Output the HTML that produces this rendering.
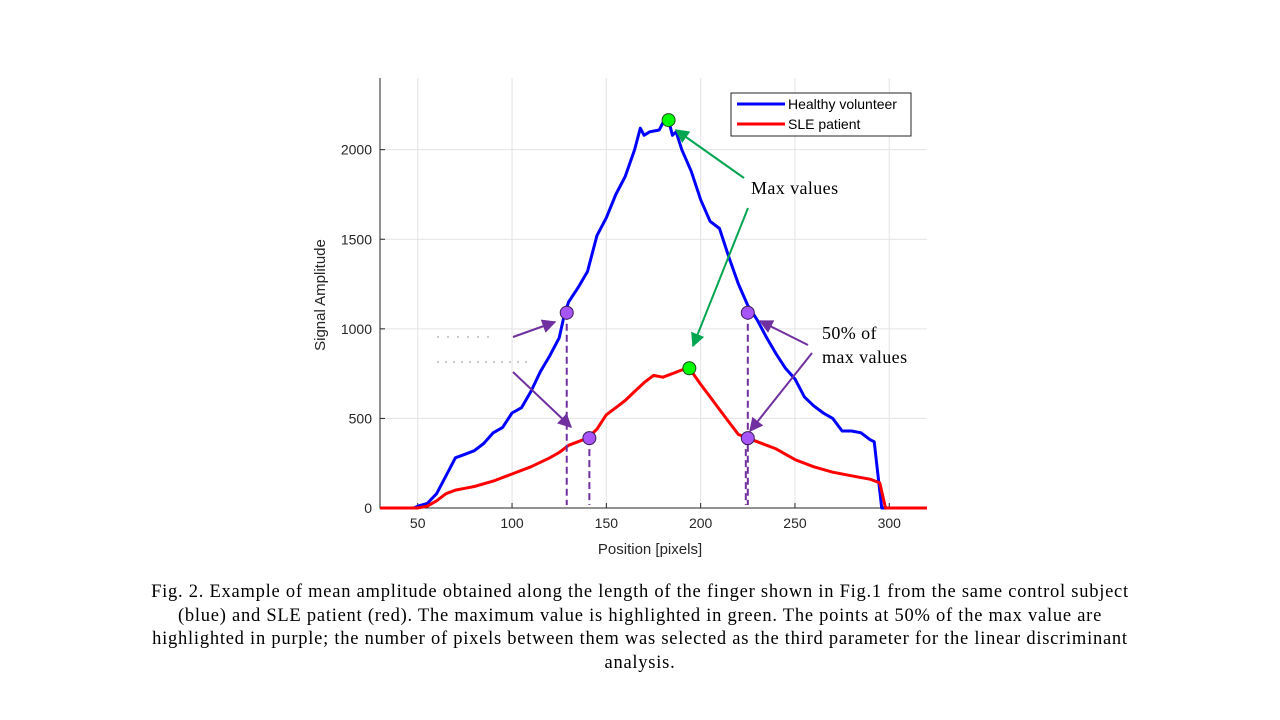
<!DOCTYPE html>
<html><head><meta charset="utf-8"><style>
body{margin:0;background:#fff;width:1280px;height:720px;overflow:hidden;font-family:"Liberation Sans",sans-serif}
#cap{position:absolute;left:40px;top:581px;width:1200px;text-align:center;font-family:"Liberation Serif",serif;font-size:18.5px;letter-spacing:0.75px;line-height:23.5px;color:#000;white-space:nowrap}
</style></head><body>
<svg id="chart" width="1280" height="720" style="position:absolute;left:0;top:0">
<defs>
<marker id="ag" viewBox="0 0 10 10" refX="9" refY="5" markerWidth="7" markerHeight="7" orient="auto"><path d="M0,0L10,5L0,10z" fill="#00a550"/></marker>
<marker id="ap" viewBox="0 0 10 10" refX="9" refY="5" markerWidth="7" markerHeight="7" orient="auto"><path d="M0,0L10,5L0,10z" fill="#7030a0"/></marker>
</defs>
<g id="grid"></g><g id="axes"></g><g id="series"></g><g id="marks"></g><g id="ann"></g>
</svg>
<div id="cap">Fig. 2. Example of mean amplitude obtained along the length of the finger shown in Fig.1 from the same control subject<br>(blue) and SLE patient (red). The maximum value is highlighted in green. The points at 50% of the max value are<br>highlighted in purple; the number of pixels between them was selected as the third parameter for the linear discriminant<br>analysis.</div>
<script>
const xTicks=[50,100,150,200,250,300];
const yTicks=[0,500,1000,1500,2000];
const blueX=[30,48,50,55,60,65,70,75,80,85,90,95,100,105,110,115,120,125,128,130,135,140,145,150,155,160,165,168,170,173,178,180,183,185,187,190,195,200,205,210,215,220,225,230,235,240,245,250,255,260,265,270,275,280,285,290,292,296,320];
const blueY=[0,0,10,25,80,180,280,300,320,360,420,450,530,560,650,760,850,950,1090,1150,1230,1320,1520,1620,1750,1850,2000,2120,2080,2100,2110,2150,2165,2080,2100,2000,1880,1720,1600,1560,1400,1250,1130,1050,950,860,780,720,620,570,530,500,430,430,420,380,370,0,0];
const redX=[30,50,55,60,65,70,75,80,90,100,110,120,125,130,135,140,145,150,155,160,165,170,175,180,185,190,194,200,205,210,215,220,225,230,240,250,260,270,280,290,295,298,320];
const redY=[0,0,10,40,80,100,110,120,150,190,230,280,310,350,370,390,440,520,560,600,650,700,740,730,750,770,780,690,620,550,480,410,390,370,330,270,230,200,180,160,140,0,0];
const maxPts=[[183,2165],[194,780]];
const halfPts=[[129,1090],[225,1090],[141,390],[225,390]];
const X=v=>380+(v-30)*(547/290), Y=v=>508-v*(430/2400);
const NS="http://www.w3.org/2000/svg";
function mk(p,t,a){const e=document.createElementNS(NS,t);for(const k in a)e.setAttribute(k,a[k]);document.getElementById(p).appendChild(e);return e;}
xTicks.forEach(t=>{
 const g=mk('grid','line',{x1:X(t),x2:X(t),y1:78,y2:508,stroke:'#e3e3e3'});
 
 
 const l=mk('axes','text',{x:X(t),y:528,'text-anchor':'middle','font-size':14,fill:'#262626'});
 
 
 l.textContent=t;
 mk('axes','line',{x1:X(t),x2:X(t),y1:508,y2:503,stroke:'#262626'});
});
yTicks.forEach(t=>{
 const g=mk('grid','line',{x1:380,x2:927,y1:Y(t),y2:Y(t),stroke:'#e3e3e3'});
 
 
 const l=mk('axes','text',{x:372,y:Y(t)+5,'text-anchor':'end','font-size':14,fill:'#262626'});
 
 
 l.textContent=t;
 mk('axes','line',{x1:380,x2:385,y1:Y(t),y2:Y(t),stroke:'#262626'});
});
const ax=mk('axes','path',{d:'M380,78V508H927',fill:'none',stroke:'#262626'});


const xl=mk('axes','text',{x:650,y:554,'text-anchor':'middle','font-size':15,fill:'#262626'});


xl.textContent='Position [pixels]';
const yl=mk('axes','text',{x:0,y:0,'text-anchor':'middle','font-size':15,fill:'#262626',transform:'translate(325,295) rotate(-90)'});


yl.textContent='Signal Amplitude';
function line(xs,ys,c,n){const e=mk('series','path',{d:xs.map((x,i)=>(i?'L':'M')+X(x).toFixed(1)+','+Y(ys[i]).toFixed(1)).join(''),fill:'none',stroke:c,'stroke-width':3,'stroke-linejoin':'round'});
 
 }
line(blueX,blueY,'#0000ff','healthy-volunteer-line');
line(redX,redY,'#ff0000','sle-patient-line');
halfPts.forEach((p,i)=>{
 const off=(i==3)?-2:0;
 const d=mk('marks','line',{x1:X(p[0])+off,x2:X(p[0])+off,y1:Y(p[1]),y2:505,stroke:'#7030a0','stroke-width':2,'stroke-dasharray':'7,4'});
 
 
});
halfPts.forEach(p=>{
 const c=mk('marks','circle',{cx:X(p[0]),cy:Y(p[1]),r:6.5,fill:'#a855f7',stroke:'#3a1a5a','stroke-width':1});
 
 
});
maxPts.forEach(p=>{
 const c=mk('marks','circle',{cx:X(p[0]),cy:Y(p[1]),r:6.5,fill:'#00ff00',stroke:'#1a4a1a','stroke-width':1});
 
 
});
const lg=mk('ann','rect',{x:731,y:93,width:180,height:43,fill:'#fff',stroke:'#262626'});


mk('ann','line',{x1:737,x2:785,y1:104,y2:104,stroke:'#0000ff','stroke-width':3});
mk('ann','line',{x1:737,x2:785,y1:124,y2:124,stroke:'#ff0000','stroke-width':3});
const t1=mk('ann','text',{x:788,y:109,'font-size':14,fill:'#000'});t1.textContent='Healthy volunteer';


const t2=mk('ann','text',{x:788,y:129,'font-size':14,fill:'#000'});t2.textContent='SLE patient';


[[744,178,676,130,'ag','#00a550'],[748,208,693,346,'ag','#00a550'],[513,337,555,322,'ap','#7030a0'],[513,372,571,427,'ap','#7030a0'],[808,345,760,321,'ap','#7030a0'],[812,353,750,431,'ap','#7030a0']].forEach(a=>{
 const e=mk('ann','line',{x1:a[0],y1:a[1],x2:a[2],y2:a[3],stroke:a[5],'stroke-width':2,'marker-end':'url(#'+a[4]+')'});
 
 
});
mk('ann','line',{x1:437,x2:495,y1:337,y2:337,stroke:'#999','stroke-dasharray':'2,8'});
mk('ann','line',{x1:437,x2:528,y1:362,y2:362,stroke:'#999','stroke-dasharray':'2,6'});
[['Max values',751,194],['50% of',822,339],['max values',822,363]].forEach(t=>{
 const e=mk('ann','text',{x:t[1],y:t[2],'font-size':18,'letter-spacing':'0.4','font-family':'Liberation Serif, serif',fill:'#000'});
 
 
 e.textContent=t[0];
});
</script>
</body></html>
